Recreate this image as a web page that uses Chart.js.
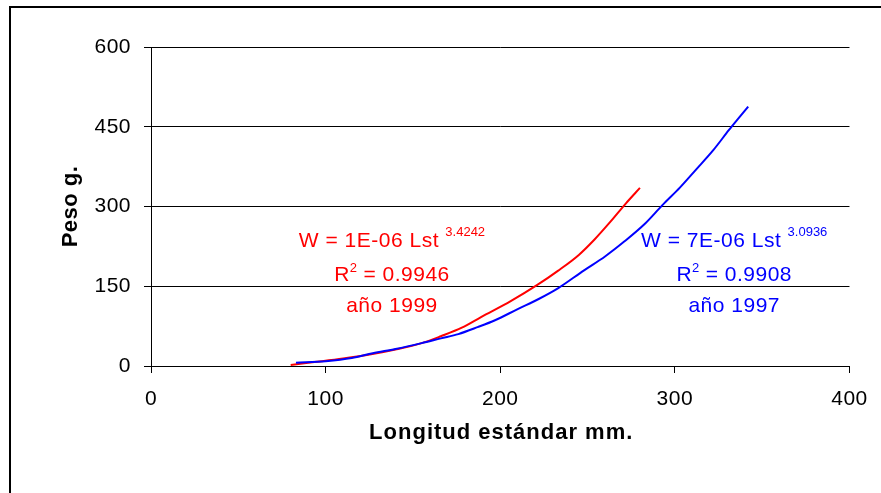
<!DOCTYPE html>
<html>
<head>
<meta charset="utf-8">
<script src="https://cdn.jsdelivr.net/npm/chart.js@4.4.0/dist/chart.umd.min.js"></script>
<style>
html, body { margin:0; padding:0; background:#fff; }
#canvas { display:block; }
</style>
</head>
<body>
<canvas id="canvas" width="881" height="493"></canvas>
<script>
// relacion longitud - peso
var L_1997 = [83, 100, 115, 127, 140, 155, 166, 176, 187, 197, 210, 222, 233, 248, 260, 271, 283, 293, 303, 312, 322, 331, 337, 342];
var W_1997 = [6, 9, 15, 24, 32, 43, 52, 60, 73, 86, 107, 126, 146, 180, 206, 234, 268, 303, 336, 369, 406, 444, 468, 488];
var L_1999 = [80, 90, 98, 110, 126, 140, 155, 166, 178, 189, 206, 221, 233, 245, 254, 263, 272, 280];
var W_1999 = [2, 6, 9, 14, 22, 31, 43, 56, 72, 92, 122, 152, 179, 209, 238, 271, 306, 335];

var X_TICKS = [0, 100, 200, 300, 400];
var Y_TICKS = [0, 150, 300, 450, 600];
var X_TITLE = 'Longitud estándar mm.';
var Y_TITLE = 'Peso g.';

// texto de cada ajuste: ecuacion, exponente, R2, año
var EQ_1999 = ['W = 1E-06 Lst ', '3.4242', '0.9946', 'año 1999'];
var EQ_1997 = ['W = 7E-06 Lst ', '3.0936', '0.9908', 'año 1997'];

var RED = '#ff0000';
var BLUE = '#0000ff';
var FONT = '"Liberation Sans", Arial, Helvetica, sans-serif';

function toPoints(xs, ys){
    var pts = [];
    for(var i = 0; i < xs.length; i++){
        pts.push({x: xs[i], y: ys[i]});
    }
    return pts;
}

function richLine(ctx, cx, y, parts){
    var w = 0;
    parts.forEach(function(p){
        ctx.font = p.font;
        ctx.letterSpacing = p.ls || '0px';
        p.w = ctx.measureText(p.text).width;
        w += p.w;
    });
    var x = cx - w / 2;
    parts.forEach(function(p){
        ctx.font = p.font;
        ctx.letterSpacing = p.ls || '0px';
        ctx.fillText(p.text, x, y + (p.dy || 0));
        x += p.w;
    });
}

function drawEq(ctx, chart, eq, color, cxVal){
    var xs = chart.scales.x, ys = chart.scales.y;
    var cx = xs.getPixelForValue(cxVal);
    var main = '21px ' + FONT, sup = '13px ' + FONT;
    ctx.fillStyle = color;
    ctx.textAlign = 'left';
    ctx.textBaseline = 'alphabetic';
    richLine(ctx, cx, ys.getPixelForValue(224), [
        {text: eq[0], font: main, ls: '0.5px'},
        {text: eq[1], font: sup, dy: -11}
    ]);
    richLine(ctx, cx, ys.getPixelForValue(160), [
        {text: 'R', font: main, ls: '0.5px'},
        {text: '2', font: sup, dy: -9},
        {text: ' = ' + eq[2], font: main, ls: '0.5px'}
    ]);
    richLine(ctx, cx, ys.getPixelForValue(102), [
        {text: eq[3], font: main, ls: '0.5px'}
    ]);
}

var paperPlugin = {
    id: 'paper',
    beforeDraw: function(chart){
        var ctx = chart.ctx;
        ctx.save();
        ctx.fillStyle = '#fff';
        ctx.fillRect(0, 0, chart.width, chart.height);
        ctx.restore();
        ctx.letterSpacing = '0.5px';
    },
    afterDraw: function(chart){
        var ctx = chart.ctx;
        var a = chart.chartArea;
        ctx.save();
        // marco exterior
        ctx.strokeStyle = '#000';
        ctx.lineWidth = 2;
        ctx.beginPath();
        ctx.moveTo(chart.width, 7);
        ctx.lineTo(10, 7);
        ctx.lineTo(10, chart.height);
        ctx.stroke();

        // titulos de ejes
        ctx.fillStyle = '#000';
        ctx.textAlign = 'center';
        ctx.textBaseline = 'alphabetic';
        ctx.font = 'bold 22px ' + FONT;
        ctx.letterSpacing = '1px';
        ctx.fillText(X_TITLE, (a.left + a.right) / 2 + 1, 439);

        ctx.save();
        ctx.translate(77, (a.top + a.bottom) / 2);
        ctx.rotate(-Math.PI / 2);
        ctx.font = 'bold 22px ' + FONT;
        ctx.letterSpacing = '0.5px';
        ctx.fillText(Y_TITLE, 0, 0);
        ctx.restore();

        drawEq(ctx, chart, EQ_1999, RED, 138);
        drawEq(ctx, chart, EQ_1997, BLUE, 334);
        ctx.restore();
    }
};

var config = {
    type: 'scatter',
    data: {
        datasets: [
            {label: '1997', data: toPoints(L_1997, W_1997), showLine: true, borderColor: BLUE, borderWidth: 2, pointRadius: 0, cubicInterpolationMode: 'monotone'},
            {label: '1999', data: toPoints(L_1999, W_1999), showLine: true, borderColor: RED, borderWidth: 2, pointRadius: 0, cubicInterpolationMode: 'monotone'}
        ]
    },
    options: {
        responsive: false,
        animation: false,
        devicePixelRatio: 1,
        layout: {padding: {left: 0, right: 27, top: 47, bottom: 0}},
        plugins: {legend: {display: false}, tooltip: {enabled: false}},
        scales: {
            x: {
                type: 'linear', min: 0, max: 400,
                afterBuildTicks: function(s){ s.ticks = X_TICKS.map(function(v){ return {value: v}; }); },
                afterFit: function(s){ s.height = 127; },
                grid: {drawOnChartArea: false, drawTicks: true, tickLength: 7, color: '#000'},
                border: {display: true, color: '#000', width: 1},
                ticks: {color: '#000', padding: 14, maxRotation: 0, font: {family: FONT, size: 21}}
            },
            y: {
                type: 'linear', min: 0, max: 600,
                afterBuildTicks: function(s){ s.ticks = Y_TICKS.map(function(v){ return {value: v}; }); },
                afterFit: function(s){ s.width = 151; },
                grid: {drawTicks: true, tickLength: 7, color: '#000', lineWidth: 1},
                border: {display: true, color: '#000', width: 1},
                ticks: {color: '#000', padding: 13, font: {family: FONT, size: 21}}
            }
        }
    },
    plugins: [paperPlugin]
};

var ctx = document.getElementById('canvas').getContext('2d');
var chart = new Chart(ctx, config);
</script>
</body>
</html>
